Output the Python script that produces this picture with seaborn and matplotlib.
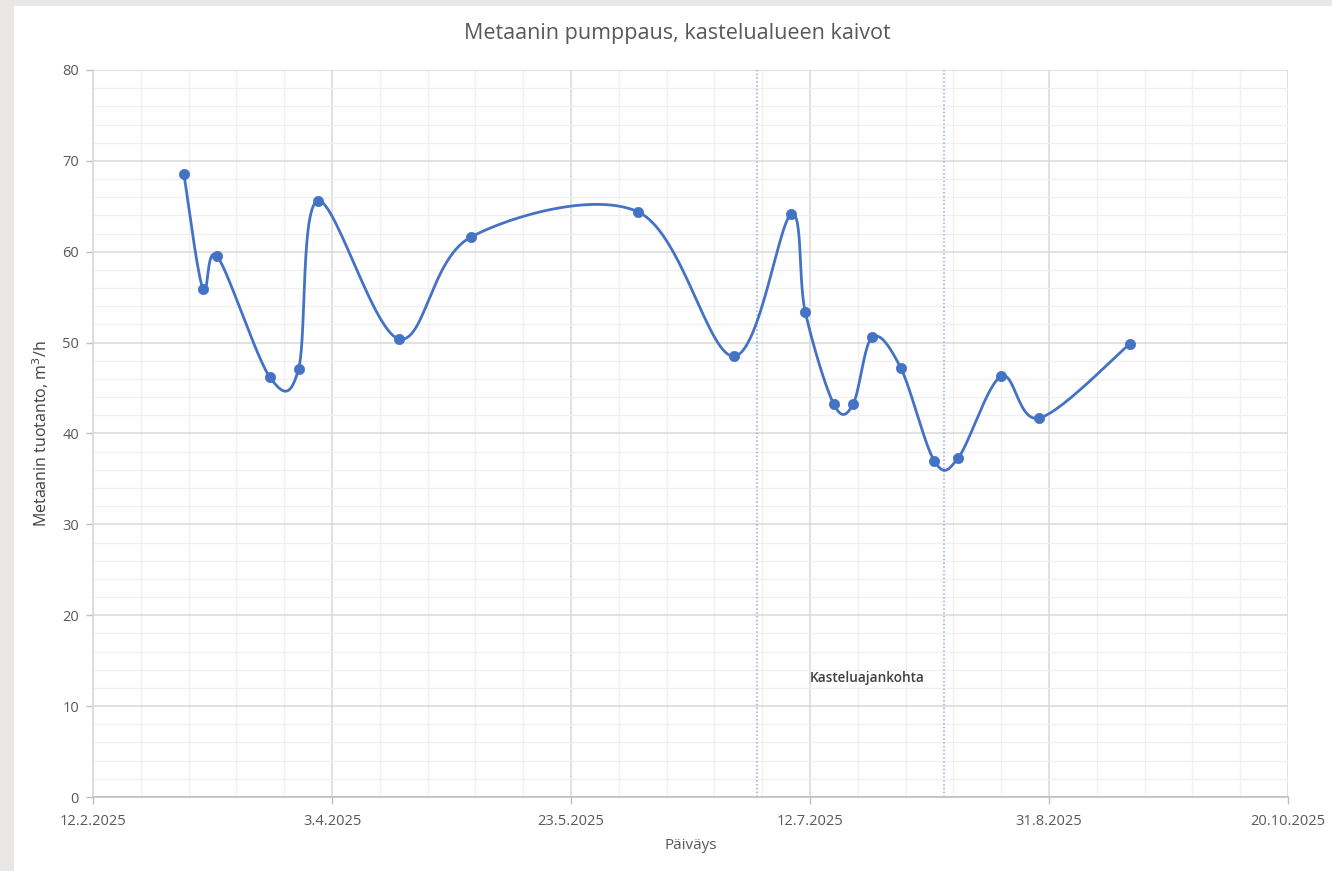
import numpy as np
import pandas as pd
import matplotlib
matplotlib.use("Agg")
import matplotlib.pyplot as plt
import matplotlib.dates as mdates
import seaborn as sns
from matplotlib.patches import Rectangle

# readings (date, m3/h)
dates = ["3.3.2025", "7.3.2025", "10.3.2025", "21.3.2025", "27.3.2025", "31.3.2025",
         "17.4.2025", "2.5.2025", "6.6.2025", "26.6.2025", "8.7.2025", "11.7.2025",
         "17.7.2025", "21.7.2025", "25.7.2025", "31.7.2025", "7.8.2025", "12.8.2025",
         "21.8.2025", "29.8.2025", "17.9.2025"]
values = [68.6, 55.9, 59.5, 46.2, 47.1, 65.6,
          50.4, 61.6, 64.4, 48.5, 64.1, 53.4,
          43.2, 43.2, 50.6, 47.2, 37.0, 37.3,
          46.3, 41.7, 49.9]
irrigation = ["1.7.2025", "9.8.2025"]
x_ticks = ["12.2.2025", "3.4.2025", "23.5.2025", "12.7.2025", "31.8.2025", "20.10.2025"]

df = pd.DataFrame({"date": pd.to_datetime(dates, format="%d.%m.%Y"), "value": values})
df["xn"] = mdates.date2num(df["date"])


def smooth(x, y, n=30):
    # bezier smoothing like a spreadsheet "smoothed line"
    x = np.asarray(x, float)
    y = np.asarray(y, float)
    px, py = [], []
    t = np.linspace(0, 1, n)
    for i in range(len(x) - 1):
        x0, y0 = (x[i - 1], y[i - 1]) if i > 0 else (x[i], y[i])
        x3, y3 = (x[i + 2], y[i + 2]) if i + 2 < len(x) else (x[i + 1], y[i + 1])
        c1x = x[i] + (x[i + 1] - x0) / 6
        c1y = y[i] + (y[i + 1] - y0) / 6
        c2x = x[i + 1] - (x3 - x[i]) / 6
        c2y = y[i + 1] - (y3 - y[i]) / 6
        bx = (1 - t) ** 3 * x[i] + 3 * (1 - t) ** 2 * t * c1x + 3 * (1 - t) * t ** 2 * c2x + t ** 3 * x[i + 1]
        by = (1 - t) ** 3 * y[i] + 3 * (1 - t) ** 2 * t * c1y + 3 * (1 - t) * t ** 2 * c2y + t ** 3 * y[i + 1]
        px.extend(bx)
        py.extend(by)
    return np.array(px), np.array(py)


sx, sy = smooth(df["xn"], df["value"])
curve = pd.DataFrame({"x": mdates.num2date(sx), "y": sy})

sns.set_theme(style="white")
plt.rcParams["font.family"] = ["Open Sans", "DejaVu Sans"]

fig = plt.figure(figsize=(13.32, 8.71), dpi=100)
fig.patch.set_facecolor("#e9e8e6")
fig.patches.append(Rectangle((14 / 1332, 0), 1 - 14 / 1332, 1 - 6 / 871,
                             transform=fig.transFigure, facecolor="white",
                             edgecolor="none", zorder=-10))
ax = fig.add_axes([93 / 1332, 1 - 797 / 871, 1195 / 1332, 727 / 871])
ax.set_zorder(1)
ax.set_facecolor("white")

blue = "#4472c4"
sns.lineplot(data=curve, x="x", y="y", sort=False, estimator=None, color=blue,
             linewidth=2.0, ax=ax, zorder=3)
sns.scatterplot(data=df, x="date", y="value", color=blue, s=55, edgecolor=blue,
                linewidth=0.5, ax=ax, zorder=4)

for d in irrigation:
    ax.axvline(pd.to_datetime(d, format="%d.%m.%Y"), color="#8faadc",
               linestyle=(0, (1, 1.5)), linewidth=1.1, zorder=2)

ax.text(pd.to_datetime("24.7.2025", format="%d.%m.%Y"), 13.1, "Kasteluajankohta",
        ha="center", va="center", fontsize=9.8, color="#404040", fontweight="semibold")

tick_dates = pd.to_datetime(x_ticks, format="%d.%m.%Y")
ax.set_xlim(tick_dates[0], tick_dates[-1])
ax.set_ylim(0, 80)
ax.set_xticks(tick_dates)
ax.set_xticklabels(x_ticks)
ax.set_xticks(pd.date_range(tick_dates[0], tick_dates[-1], freq="10D"), minor=True)
ax.set_yticks(np.arange(0, 81, 10))
ax.set_yticks(np.arange(0, 81, 2), minor=True)

ax.grid(which="major", color="#d9d9d9", linewidth=1.1, zorder=0)
ax.grid(which="minor", color="#f0f0f0", linewidth=1.0, zorder=0)
ax.set_axisbelow(True)

for side in ["top", "right"]:
    ax.spines[side].set_visible(False)
ax.spines["bottom"].set_color("#bfbfbf")
ax.spines["left"].set_color("#d9d9d9")
ax.spines["bottom"].set_linewidth(1.2)
ax.spines["left"].set_linewidth(1.2)

ax.tick_params(axis="both", which="major", labelsize=10.5, labelcolor="#595959",
               length=5, width=1, color="#bfbfbf", pad=5)
ax.tick_params(axis="x", which="major", direction="out", bottom=True, pad=7)
ax.tick_params(axis="y", which="major", direction="out", left=True)
ax.tick_params(which="minor", length=0)

ax.set_xlabel("Päiväys", fontsize=11, color="#595959", labelpad=7)
ax.set_ylabel("Metaanin tuotanto, m$^3$/h", fontsize=11.5, color="#404040", labelpad=8)
fig.text(0.5085, 1 - 34 / 871, "Metaanin pumppaus, kastelualueen kaivot",
         ha="center", va="center", fontsize=15.5, color="#595959")

fig.savefig("out.png", dpi=100, facecolor=fig.get_facecolor())
